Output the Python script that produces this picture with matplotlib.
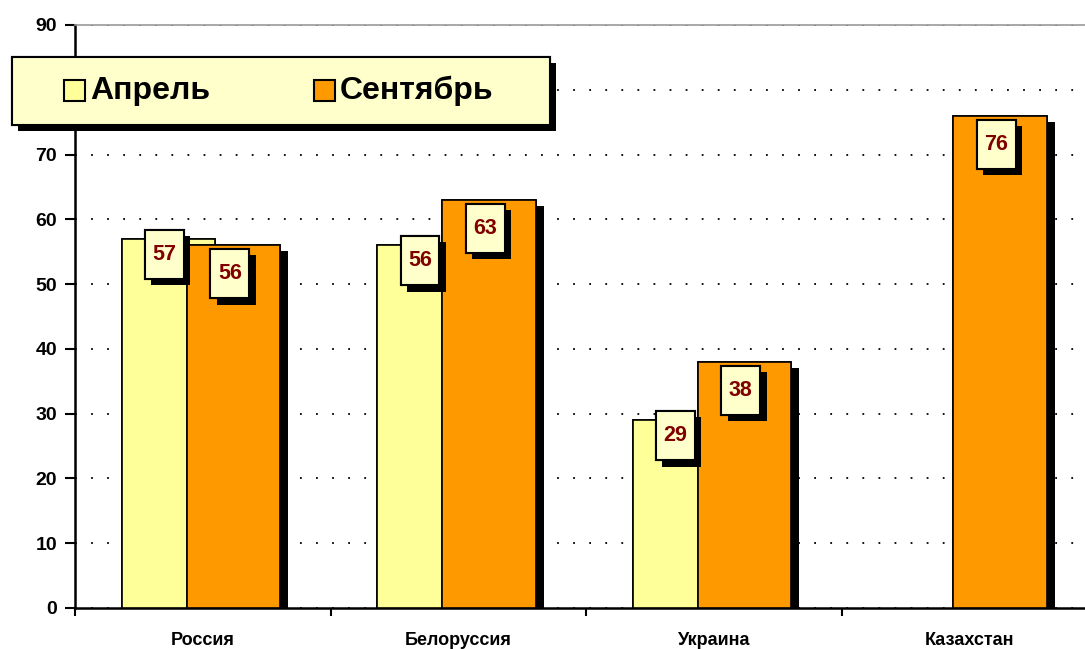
import numpy as np
import matplotlib

matplotlib.use("Agg")
import matplotlib.pyplot as plt  # noqa: E402
import matplotlib.patheffects as pe  # noqa: E402
from matplotlib.patches import Rectangle  # noqa: E402

categories = ["Россия", "Белоруссия", "Украина", "Казахстан"]
april = [57, 56, 29, None]
september = [56, 63, 38, 76]
yticks = list(range(0, 91, 10))
series_names = ["Апрель", "Сентябрь"]

APRIL_COLOR = "#FFFF99"
SEP_COLOR = "#FF9900"
BOX_COLOR = "#FFFFCC"
LABEL_COLOR = "#800000"
FONT = "Liberation Sans"

plt.rcParams["font.family"] = [FONT, "DejaVu Sans"]
plt.rcParams["font.weight"] = "bold"

fig = plt.figure(figsize=(10.85, 6.49), dpi=100)
ax = fig.add_axes([75 / 1085, 41 / 649, 1022 / 1085, 583 / 649])

x = np.arange(len(categories))
width = 0.365
off_a, off_s = -0.135, 0.12

bar_shadow = [pe.withSimplePatchShadow(offset=(6, -4.5), shadow_rgbFace="black", alpha=1.0), pe.Normal()]
box_shadow = [pe.withSimplePatchShadow(offset=(4.5, -4.5), shadow_rgbFace="black", alpha=1.0), pe.Normal()]

a_idx = [i for i, v in enumerate(april) if v is not None]
a_vals = [april[i] for i in a_idx]
ax.bar(x[a_idx] + off_a, a_vals, width, color=APRIL_COLOR, edgecolor="black",
       linewidth=1.2, zorder=3, path_effects=bar_shadow)
ax.bar(x + off_s, september, width, color=SEP_COLOR, edgecolor="black",
       linewidth=1.2, zorder=4, path_effects=bar_shadow)

# value boxes
bw, bh = 0.152, 7.6


def value_box(xc, top, drop, z):
    yc = top - drop
    r = Rectangle((xc - bw / 2, yc - bh / 2), bw, bh, facecolor=BOX_COLOR,
                  edgecolor="black", linewidth=1.5, zorder=z, path_effects=box_shadow)
    ax.add_patch(r)
    ax.text(xc, yc, f"{top}", ha="center", va="center", fontsize=15.5,
            fontweight="bold", color=LABEL_COLOR, zorder=z + 0.1)


for i, v in zip(a_idx, a_vals):
    value_box(x[i] + off_a - 0.015, v, 2.4, 5)
for i, v in enumerate(september):
    value_box(x[i] + off_s - 0.014, v, 4.4, 6)

ax.set_xlim(-0.5, 3.5)
ax.set_ylim(0, 90)
ax.set_yticks(yticks)
ax.set_yticklabels([str(t) for t in yticks], fontsize=14, fontweight="bold")
ax.tick_params(axis="y", direction="out", length=7, width=1.5, pad=6)

ax.set_xticks(x)
ax.set_xticklabels(categories, fontsize=13, fontweight="bold")
ax.set_xticks(np.arange(-0.5, 3.6, 1.0), minor=True)
ax.tick_params(axis="x", which="major", length=0, pad=17)
ax.tick_params(axis="x", which="minor", direction="out", length=6, width=1.5)

ax.yaxis.grid(True, color="black", linewidth=1.3, linestyle=(0, (1, 7.9)))
ax.set_axisbelow(True)
for s in ["left", "bottom"]:
    ax.spines[s].set_linewidth(1.8)
ax.spines["top"].set_color("#999999")
ax.spines["top"].set_linewidth(1.2)
ax.spines["right"].set_visible(False)

# legend box drawn in figure pixels
W, H = 1085, 649


def fx(px):
    return px / W


def fy(py):
    return 1 - py / H


leg = Rectangle((fx(12), fy(125)), fx(550) - fx(12), fy(57) - fy(125), transform=fig.transFigure,
                facecolor=BOX_COLOR, edgecolor="black", linewidth=1.5, zorder=10,
                path_effects=[pe.withSimplePatchShadow(offset=(4, -4), shadow_rgbFace="black", alpha=1.0),
                              pe.Normal()])
fig.add_artist(leg)
for name, color, sx in zip(series_names, [APRIL_COLOR, SEP_COLOR], [64, 314]):
    sq = Rectangle((fx(sx), fy(101)), fx(21), 21 / H, transform=fig.transFigure,
                   facecolor=color, edgecolor="black", linewidth=1.5, zorder=11)
    fig.add_artist(sq)
    fig.text(fx(sx + 26), fy(91), name, ha="left", va="center", fontsize=23,
             fontweight="bold", color="black", zorder=12)

fig.savefig("out.png", dpi=100)
plt.close(fig)
